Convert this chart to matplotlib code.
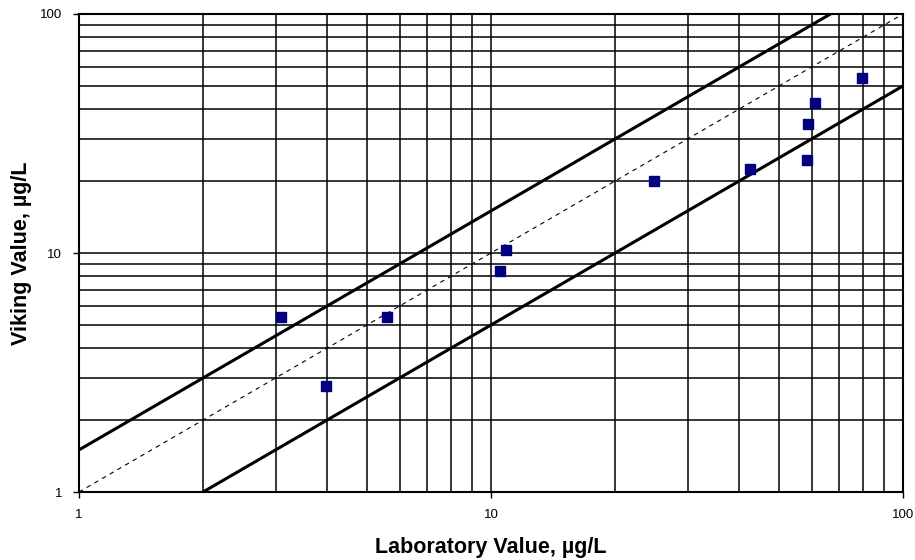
import matplotlib
matplotlib.use('Agg')
import matplotlib.pyplot as plt
import numpy as np
from matplotlib.ticker import FixedLocator, NullFormatter

plt.rcParams['font.family'] = ['Liberation Sans', 'DejaVu Sans']

# данные: лабораторные значения и значения Viking, мкг/л
lab = [3.1, 3.97, 5.6, 10.5, 10.9, 24.9, 42.6, 58.5, 58.9, 61.2, 79.6]
viking = [5.4, 2.77, 5.4, 8.4, 10.3, 20.1, 22.4, 24.6, 34.5, 42.5, 54.0]

# границы +50% / -50% и линия 1:1
xline = np.array([1, 100])

fig = plt.figure(figsize=(9.15, 5.6), dpi=100)
ax = fig.add_axes([0.0863, 0.1214, 0.9006, 0.8536])
ax.set_xscale('log')
ax.set_yscale('log')
ax.set_xlim(1, 100)
ax.set_ylim(1, 100)

ax.plot(xline, 1.5 * xline, color='black', lw=2.2)
ax.plot(xline, 0.5 * xline, color='black', lw=2.2)
ax.plot(xline, xline, color='black', lw=0.8, dashes=(4, 4))
ax.plot(lab, viking, 's', color='#000080', ms=6.5, ls='none', zorder=5)

majors = [1, 10, 100]
minors = [m * d for d in (1, 10) for m in range(2, 10)]
ax.xaxis.set_major_locator(FixedLocator(majors))
ax.yaxis.set_major_locator(FixedLocator(majors))
ax.xaxis.set_minor_locator(FixedLocator(minors))
ax.yaxis.set_minor_locator(FixedLocator(minors))
ax.xaxis.set_minor_formatter(NullFormatter())
ax.yaxis.set_minor_formatter(NullFormatter())
ax.set_xticklabels(['1', '10', '100'])
ax.set_yticklabels(['1', '10', '100'])
ax.grid(True, which='both', color='black', lw=1.1)
ax.tick_params(which='major', direction='out', length=4, width=1, labelsize=9.5, pad=8)
ax.tick_params(which='minor', length=0)
for s in ax.spines.values():
    s.set_linewidth(1.5)

ax.set_xlabel('Laboratory Value, µg/L', fontsize=15.5, fontweight='bold', labelpad=12)
ax.set_ylabel('Viking Value, µg/L', fontsize=15.5, fontweight='bold', labelpad=6)

fig.savefig('out.png', dpi=100)
